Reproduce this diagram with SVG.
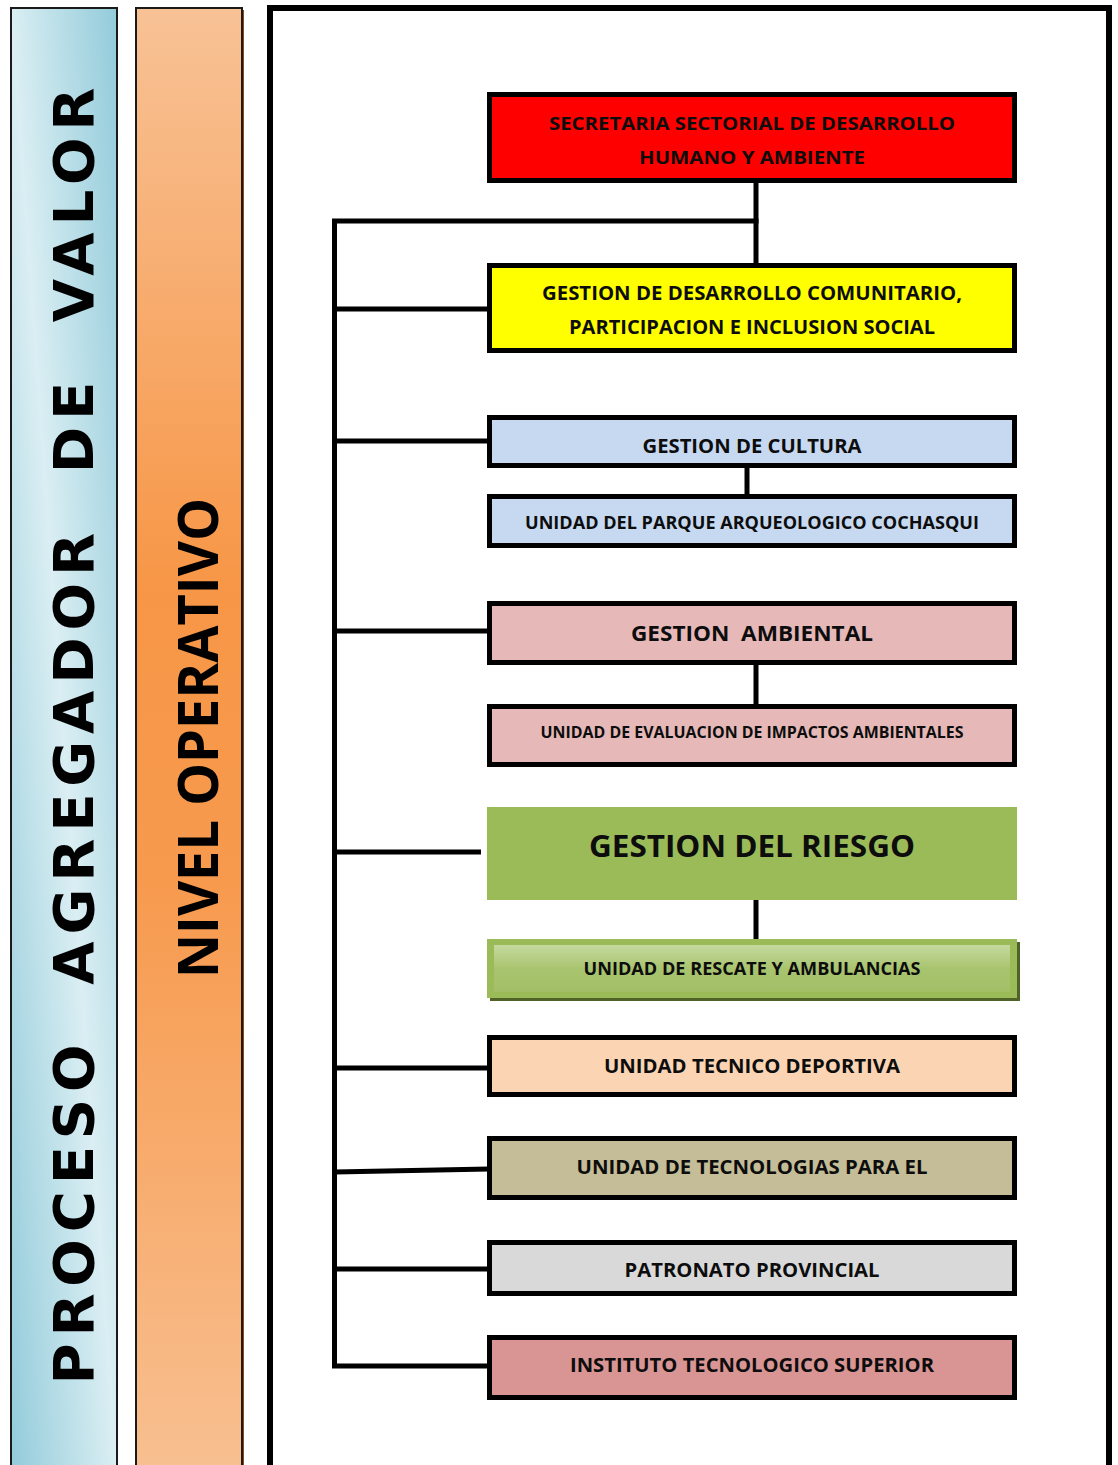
<svg xmlns="http://www.w3.org/2000/svg" width="1118" height="1465" viewBox="0 0 1118 1465">
  <defs>
    <linearGradient id="gBlue" x1="1" y1="0" x2="0" y2="1">
      <stop offset="0" stop-color="#92cbda"/>
      <stop offset="0.5" stop-color="#daeef3"/>
      <stop offset="1" stop-color="#92cbda"/>
    </linearGradient>
    <linearGradient id="gOrange" gradientUnits="userSpaceOnUse" x1="0" y1="8" x2="0" y2="1465">
      <stop offset="0" stop-color="#f8c296"/>
      <stop offset="0.4" stop-color="#f79646"/>
      <stop offset="0.6" stop-color="#f79a4e"/>
      <stop offset="1" stop-color="#f8bf90"/>
    </linearGradient>
    <linearGradient id="gGreen" x1="0" y1="0" x2="0" y2="1">
      <stop offset="0" stop-color="#c5d99e"/>
      <stop offset="0.5" stop-color="#a9c46f"/>
      <stop offset="1" stop-color="#a3bf66"/>
    </linearGradient>
    <style>
      .box { stroke: #000; stroke-width: 5; }
      .lbl { font-family: "Open Sans", "Liberation Sans", sans-serif; font-weight: bold; fill: #0d0d0d; text-anchor: middle; }
      .conn { fill: none; stroke: #000; stroke-width: 5; }
      .col { stroke: #1a1a1a; stroke-width: 2; }
    </style>
  </defs>

  <rect width="1118" height="1465" fill="#fff"/>

  <!-- side bands -->
  <g id="band-proceso">
    <rect class="col" x="11" y="8" width="106" height="1470" fill="url(#gBlue)"/>
    <text transform="translate(93,736) rotate(-90)" x="0" y="0" text-anchor="middle" font-family="'DejaVu Sans', sans-serif" font-weight="bold" font-size="56" fill="#000" textLength="1297" lengthAdjust="spacing" xml:space="preserve">PROCESO  AGREGADOR  DE  VALOR</text>
  </g>
  <g id="band-nivel">
    <rect class="col" x="136" y="8" width="106" height="1470" fill="url(#gOrange)"/>
    <line x1="243.5" y1="10" x2="243.5" y2="1465" stroke="#974806" stroke-width="1"/>
    <text transform="translate(218,738) rotate(-90)" x="0" y="0" text-anchor="middle" font-family="'Open Sans', 'Liberation Sans', sans-serif" font-weight="bold" font-size="55" fill="#000" textLength="480" lengthAdjust="spacingAndGlyphs">NIVEL OPERATIVO</text>
  </g>

  <!-- chart frame -->
  <rect x="270" y="8" width="839" height="1500" fill="#fff" stroke="#000" stroke-width="6"/>

  <!-- connectors -->
  <g id="connectors">
    <path class="conn" d="M756,183 V265"/>
    <path class="conn" d="M332,221 H758.5"/>
    <path class="conn" d="M334.5,219 V1368"/>
    <path class="conn" d="M334.5,309 H489"/>
    <path class="conn" d="M334.5,441 H489"/>
    <path class="conn" d="M747,468 V496"/>
    <path class="conn" d="M334.5,631 H489"/>
    <path class="conn" d="M756,665 V706"/>
    <path class="conn" d="M334.5,852 H481"/>
    <path class="conn" d="M756,898 V941"/>
    <path class="conn" d="M334.5,1068 H489"/>
    <path class="conn" d="M334.5,1172 L489,1169"/>
    <path class="conn" d="M334.5,1269 H489"/>
    <path class="conn" d="M332,1366 H489"/>
  </g>

  <!-- nodes -->
  <g id="secretaria">
    <rect class="box" x="489.5" y="94.5" width="525" height="86" fill="#ff0000"/>
    <text class="lbl" x="752" y="130" font-size="18" textLength="406" lengthAdjust="spacingAndGlyphs">SECRETARIA SECTORIAL DE DESARROLLO</text>
    <text class="lbl" x="752" y="164" font-size="18" textLength="226" lengthAdjust="spacingAndGlyphs">HUMANO Y AMBIENTE</text>
  </g>
  <g id="desarrollo-comunitario">
    <rect class="box" x="489.5" y="265.5" width="525" height="85" fill="#ffff00"/>
    <text class="lbl" x="752" y="300" font-size="19" textLength="420" lengthAdjust="spacingAndGlyphs">GESTION DE DESARROLLO COMUNITARIO,</text>
    <text class="lbl" x="752" y="334" font-size="19" textLength="366" lengthAdjust="spacingAndGlyphs">PARTICIPACION E INCLUSION SOCIAL</text>
  </g>
  <g id="cultura">
    <rect class="box" x="489.5" y="417.5" width="525" height="48" fill="#c6d9f1"/>
    <text class="lbl" x="752" y="453" font-size="19" textLength="219" lengthAdjust="spacingAndGlyphs">GESTION DE CULTURA</text>
  </g>
  <g id="parque-cochasqui">
    <rect class="box" x="489.5" y="496.5" width="525" height="49" fill="#c6d9f1"/>
    <text class="lbl" x="752" y="529" font-size="17" textLength="454" lengthAdjust="spacingAndGlyphs">UNIDAD DEL PARQUE ARQUEOLOGICO COCHASQUI</text>
  </g>
  <g id="ambiental">
    <rect class="box" x="489.5" y="603.5" width="525" height="59" fill="#e6b9b8"/>
    <text class="lbl" x="752" y="641" font-size="22" textLength="242" lengthAdjust="spacingAndGlyphs" xml:space="preserve">GESTION  AMBIENTAL</text>
  </g>
  <g id="impactos-ambientales">
    <rect class="box" x="489.5" y="706.5" width="525" height="58" fill="#e6b9b8"/>
    <text class="lbl" x="752" y="738" font-size="16" textLength="423" lengthAdjust="spacingAndGlyphs">UNIDAD DE EVALUACION DE IMPACTOS AMBIENTALES</text>
  </g>
  <g id="riesgo">
    <rect x="487" y="807" width="530" height="93" fill="#9bbb59"/>
    <text class="lbl" x="752" y="857" font-size="31" textLength="326" lengthAdjust="spacingAndGlyphs">GESTION DEL RIESGO</text>
  </g>
  <g id="rescate">
    <rect x="490" y="942" width="530" height="59" fill="#4f6228"/>
    <rect x="487" y="939" width="530" height="59" fill="#9bbb59"/>
    <rect x="494" y="945" width="516" height="47" fill="url(#gGreen)"/>
    <text class="lbl" x="752" y="975" font-size="18" textLength="337" lengthAdjust="spacingAndGlyphs">UNIDAD DE RESCATE Y AMBULANCIAS</text>
  </g>
  <g id="tecnico-deportiva">
    <rect class="box" x="489.5" y="1037.5" width="525" height="57" fill="#fbd4b4"/>
    <text class="lbl" x="752" y="1073" font-size="20" textLength="296" lengthAdjust="spacingAndGlyphs">UNIDAD TECNICO DEPORTIVA</text>
  </g>
  <g id="tecnologias">
    <rect class="box" x="489.5" y="1138.5" width="525" height="59" fill="#c4bd97"/>
    <text class="lbl" x="752" y="1174" font-size="20" textLength="351" lengthAdjust="spacingAndGlyphs">UNIDAD DE TECNOLOGIAS PARA EL</text>
  </g>
  <g id="patronato">
    <rect class="box" x="489.5" y="1242.5" width="525" height="51" fill="#d9d9d9"/>
    <text class="lbl" x="752" y="1277" font-size="19" textLength="255" lengthAdjust="spacingAndGlyphs">PATRONATO PROVINCIAL</text>
  </g>
  <g id="instituto">
    <rect class="box" x="489.5" y="1337.5" width="525" height="60" fill="#d99594"/>
    <text class="lbl" x="752" y="1372" font-size="19" textLength="364" lengthAdjust="spacingAndGlyphs">INSTITUTO TECNOLOGICO SUPERIOR</text>
  </g>
</svg>
